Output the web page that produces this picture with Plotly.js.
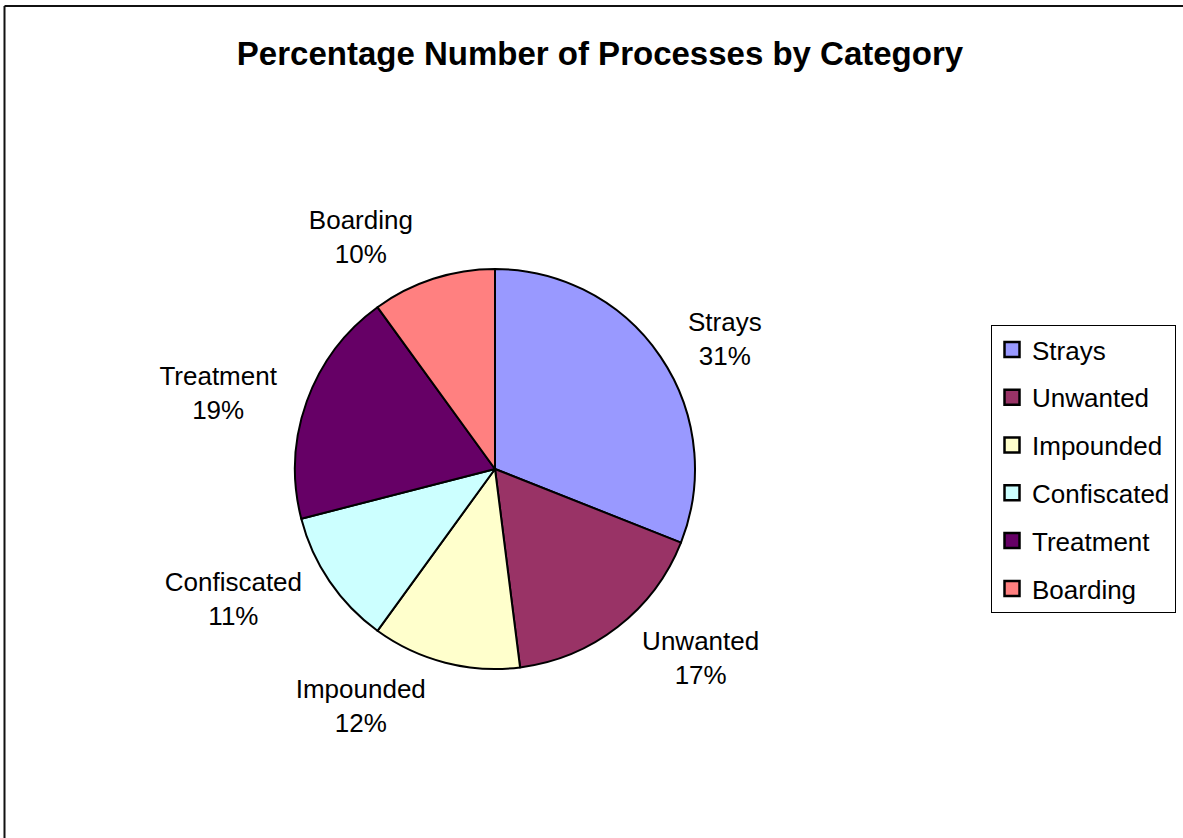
<!DOCTYPE html>
<html>
<head>
<meta charset="utf-8">
<script src="https://cdn.plot.ly/plotly-3.0.1.min.js"></script>
<style>
html,body{margin:0;padding:0;background:#fff;}
#chart{width:1183px;height:838px;}
</style>
</head>
<body>
<div id="chart"></div>
<script>
const categories = ["Strays", "Unwanted", "Impounded", "Confiscated", "Treatment", "Boarding"];
const percentages = [31, 17, 12, 11, 19, 10];
const colors = ["#9999FF", "#993366", "#FFFFCC", "#CCFFFF", "#660066", "#FF8080"];
const chartTitle = "Percentage Number of Processes by Category";

const W = 1183, H = 838;
const FONT = "Liberation Sans, Arial, sans-serif";
const CX = 495, CY = 469, R = 200, RL = 214;

// visible pie (slices only)
const pie = {
  type: "pie",
  labels: categories,
  values: percentages,
  sort: false,
  direction: "clockwise",
  rotation: 0,
  marker: { colors: colors, line: { color: "#000", width: 2 } },
  textinfo: "none",
  hoverinfo: "label+percent",
  showlegend: false,
  automargin: false,
  domain: { x: [(CX - R) / W, (CX + R) / W], y: [1 - (CY + R) / H, 1 - (CY - R) / H] }
};

// same data, slightly larger transparent pie carrying the outside data labels
const labelPie = {
  type: "pie",
  labels: categories,
  values: percentages,
  sort: false,
  direction: "clockwise",
  rotation: 0,
  marker: { colors: categories.map(() => "rgba(0,0,0,0)"), line: { width: 0 } },
  texttemplate: "%{label}<br>%{percent:.0%}",
  textposition: "outside",
  outsidetextfont: { family: FONT, size: 26, color: "#000" },
  hoverinfo: "skip",
  showlegend: false,
  automargin: false,
  domain: { x: [(CX - RL) / W, (CX + RL) / W], y: [1 - (CY + RL) / H, 1 - (CY - RL) / H] }
};

const legendTraces = categories.map((c, i) => ({
  type: "scatter",
  mode: "markers",
  x: [null], y: [null],
  name: c,
  legendgroup: "g" + i,
  marker: { symbol: "square", size: 15, color: colors[i], line: { color: "#000", width: 2.5 } },
  showlegend: true,
  hoverinfo: "skip"
}));

const layout = {
  width: W, height: H,
  margin: { l: 0, r: 0, t: 0, b: 0 },
  paper_bgcolor: "#fff",
  plot_bgcolor: "rgba(0,0,0,0)",
  font: { family: FONT, color: "#000" },
  title: {
    text: "<b>" + chartTitle + "</b>",
    font: { family: FONT, size: 33, color: "#000" },
    x: 600 / W, xanchor: "center",
    y: 1 - 53 / H, yanchor: "middle",
    xref: "paper", yref: "paper"
  },
  xaxis: { visible: false, domain: [0.99, 1] },
  yaxis: { visible: false, domain: [0.99, 1] },
  showlegend: true,
  legend: {
    x: 991 / W, xanchor: "left",
    y: 1 - 325 / H, yanchor: "top",
    bordercolor: "#000", borderwidth: 1,
    bgcolor: "#fff",
    font: { family: FONT, size: 26, color: "#000" },
    traceorder: "grouped",
    tracegroupgap: 11,
    itemclick: false, itemdoubleclick: false
  },
  shapes: [
    { type: "line", xref: "paper", yref: "paper", x0: 4.5 / W, x1: 1.01, y0: 1 - 6 / H, y1: 1 - 6 / H, line: { color: "#111", width: 2 } },
    { type: "line", xref: "paper", yref: "paper", x0: 4.5 / W, x1: 4.5 / W, y0: 1 - 6 / H, y1: -0.01, line: { color: "#111", width: 2 } }
  ]
};

Plotly.newPlot("chart", [pie, labelPie].concat(legendTraces), layout, { displayModeBar: false, staticPlot: true });
</script>
</body>
</html>
